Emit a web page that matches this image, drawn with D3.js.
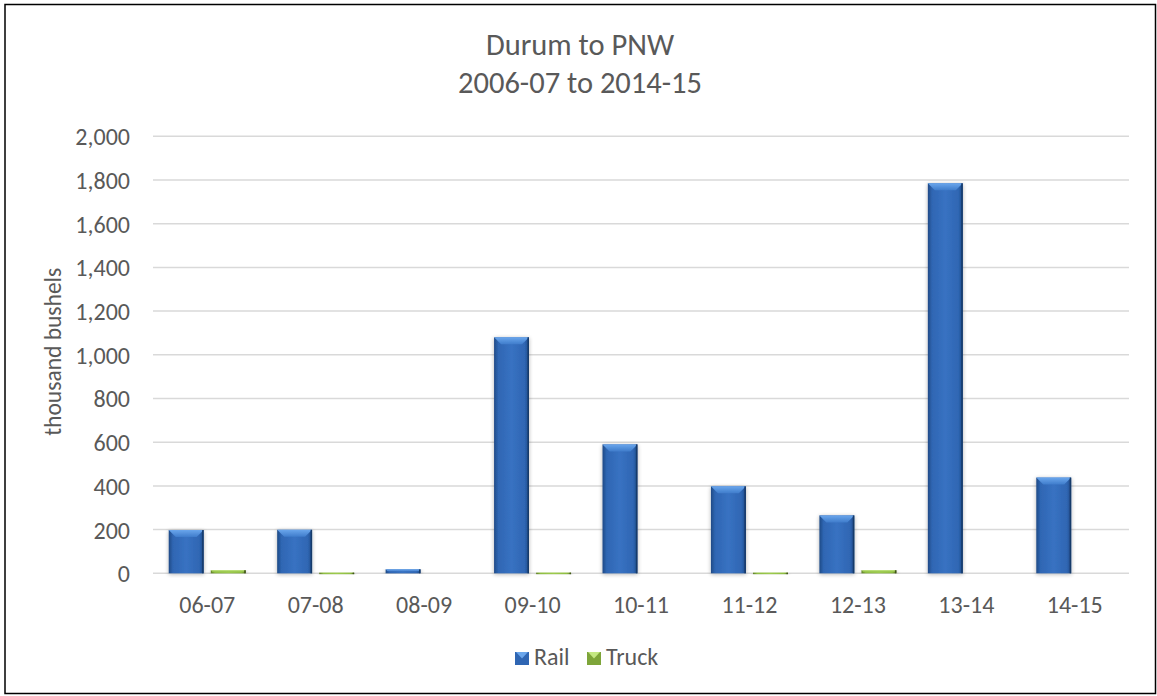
<!DOCTYPE html>
<html><head><meta charset="utf-8">
<script src="https://cdn.jsdelivr.net/npm/d3@7"></script>
<style>html,body{margin:0;padding:0;background:#fff}svg{display:block}</style>
</head><body>
<script>
const categories = ["06-07","07-08","08-09","09-10","10-11","11-12","12-13","13-14","14-15"];
const seriesNames = ["Rail","Truck"];
const railValues = [198, 199, 18, 1080, 590, 398, 265, 1785, 438];
const truckValues = [14, 3, 0, 3, 0, 3, 14, 0, 0];
const yTicks = [0,200,400,600,800,1000,1200,1400,1600,1800,2000];
const titleLines = ["Durum to PNW","2006-07 to 2014-15"];
const yTitle = "thousand bushels";

const W = 1157, H = 696;
const FONT = "Carlito, Calibri, Lato, 'Open Sans', sans-serif";
const TXT = "#595959";
const svg = d3.select("body").append("svg").attr("width", W).attr("height", H);

const defs = svg.append("defs");
function barGrad(id, edge, mid, light){
  const g = defs.append("linearGradient").attr("id", id).attr("x1","0").attr("x2","1").attr("y1","0").attr("y2","0");
  g.append("stop").attr("offset","0").attr("stop-color", edge);
  g.append("stop").attr("offset","0.12").attr("stop-color", mid);
  g.append("stop").attr("offset","0.5").attr("stop-color", light);
  g.append("stop").attr("offset","0.88").attr("stop-color", mid);
  g.append("stop").attr("offset","1").attr("stop-color", edge);
}
barGrad("railG", "#1f4a86", "#2f66b3", "#3872c2");
barGrad("truckG", "#5d7c27", "#8fbd42", "#9dcb4e");
function bevGrad(id, top, bot){
  const g = defs.append("linearGradient").attr("id", id).attr("x1","0").attr("x2","0").attr("y1","0").attr("y2","1");
  g.append("stop").attr("offset","0").attr("stop-color", top);
  g.append("stop").attr("offset","1").attr("stop-color", bot);
}
bevGrad("railB", "#6aa6ec", "#3f7ccb");
bevGrad("truckB", "#c4e882", "#98c64c");
const sh = defs.append("filter").attr("id","shadow").attr("x","-30%").attr("y","-10%").attr("width","160%").attr("height","120%");
sh.append("feGaussianBlur").attr("in","SourceAlpha").attr("stdDeviation","2");
sh.append("feOffset").attr("dx",0).attr("dy",1);
sh.append("feComponentTransfer").append("feFuncA").attr("type","linear").attr("slope","0.3");
const mg = sh.append("feMerge"); mg.append("feMergeNode"); mg.append("feMergeNode").attr("in","SourceGraphic");

// border
svg.append("rect").attr("x",5).attr("y",4.5).attr("width",1150.5).attr("height",689)
  .attr("fill","#fff").attr("stroke","#000").attr("stroke-width",1.5);

const plotL = 153, plotR = 1129, plotT = 136.3, plotB = 573.3;
const y = d3.scaleLinear().domain([0,2000]).range([plotB, plotT]);
const x0 = d3.scaleBand().domain(categories).range([plotL, plotR]).paddingInner(0.29).paddingOuter(0.145);
const x1 = d3.scaleBand().domain(seriesNames).range([0, x0.bandwidth()]).paddingInner(0.17);

// title
const title = svg.append("text").attr("text-anchor","middle").attr("fill",TXT)
  .style("font-family",FONT).style("font-size","30.5px");
title.selectAll("tspan").data(titleLines).join("tspan")
  .attr("x", 580).attr("y",(d,i)=> 55 + i*38).text(d=>d);

// gridlines
svg.append("g").selectAll("line").data(yTicks).join("line")
  .attr("x1", plotL).attr("x2", plotR).attr("y1", d=>y(d)).attr("y2", d=>y(d))
  .attr("stroke","#d9d9d9").attr("stroke-width",1.5);

// y axis
const yAxis = svg.append("g").attr("transform",`translate(${plotL},0)`)
  .call(d3.axisLeft(y).tickValues(yTicks).tickFormat(d3.format(",")).tickSize(0).tickPadding(23));
yAxis.select(".domain").remove();
yAxis.selectAll("text").attr("fill",TXT).style("font-family",FONT).style("font-size","24px").attr("dy","0.35em");

// x axis
const xAxis = svg.append("g").attr("transform",`translate(0,${plotB})`)
  .call(d3.axisBottom(x0).tickSize(0).tickPadding(23));
xAxis.select(".domain").remove();
xAxis.selectAll("text").attr("fill",TXT).style("font-family",FONT).style("font-size","24px");

// y title
svg.append("text").attr("transform",`translate(61,${(plotT+plotB)/2 - 3}) rotate(-90)`)
  .attr("text-anchor","middle").attr("fill",TXT).style("font-family",FONT).style("font-size","23.5px").text(yTitle);

// bars
const rows = categories.map((c,i)=>({cat:c, vals:[{s:"Rail",v:railValues[i]},{s:"Truck",v:truckValues[i]}]}));
const grp = svg.append("g").selectAll("g").data(rows).join("g").attr("transform", d=>`translate(${x0(d.cat)},0)`);
const bar = grp.selectAll("g").data(d=>d.vals.filter(v=>v.v>0)).join("g").attr("filter","url(#shadow)");
bar.append("rect")
  .attr("x", d=>x1(d.s)).attr("width", x1.bandwidth())
  .attr("y", d=>y(d.v)).attr("height", d=>Math.max(1.5, y(0)-y(d.v)))
  .attr("fill", d=> d.s==="Rail" ? "url(#railG)" : "url(#truckG)");
// top bevel
bar.append("path").attr("d", d=>{
  const xa = x1(d.s), w = x1.bandwidth(), ty = y(d.v), h = Math.min(7, (y(0)-ty)/2);
  return `M${xa},${ty} L${xa+w},${ty} L${xa+w-h},${ty+h} L${xa+h},${ty+h} Z`;
}).attr("fill", d=> d.s==="Rail" ? "url(#railB)" : "url(#truckB)");
// side darker strip on right
bar.append("rect")
  .attr("x", d=>x1(d.s)+x1.bandwidth()-1.5).attr("width",1.5)
  .attr("y", d=>y(d.v)).attr("height", d=>Math.max(1.5, y(0)-y(d.v)))
  .attr("fill", d=> d.s==="Rail" ? "#163a6b" : "#3f5419");

// legend
const legend = svg.append("g").attr("transform","translate(0,658.5)");
const litems = [{s:"Rail",x:515,c:"#2f66b3",l:"#6aa6ec"},{s:"Truck",x:587,c:"#7ea53a",l:"#c4e882"}];
litems.forEach(it=>{
  legend.append("rect").attr("x",it.x).attr("y",-6.5).attr("width",14).attr("height",13).attr("fill",it.c);
  legend.append("path").attr("d",`M${it.x+1},-6.5 L${it.x+13},-6.5 L${it.x+7},0 Z`).attr("fill",it.l);
  legend.append("text").attr("x",it.x+19).attr("y",6.5).attr("fill",TXT)
    .style("font-family",FONT).style("font-size","24px").text(it.s);
});
</script>
</body></html>
